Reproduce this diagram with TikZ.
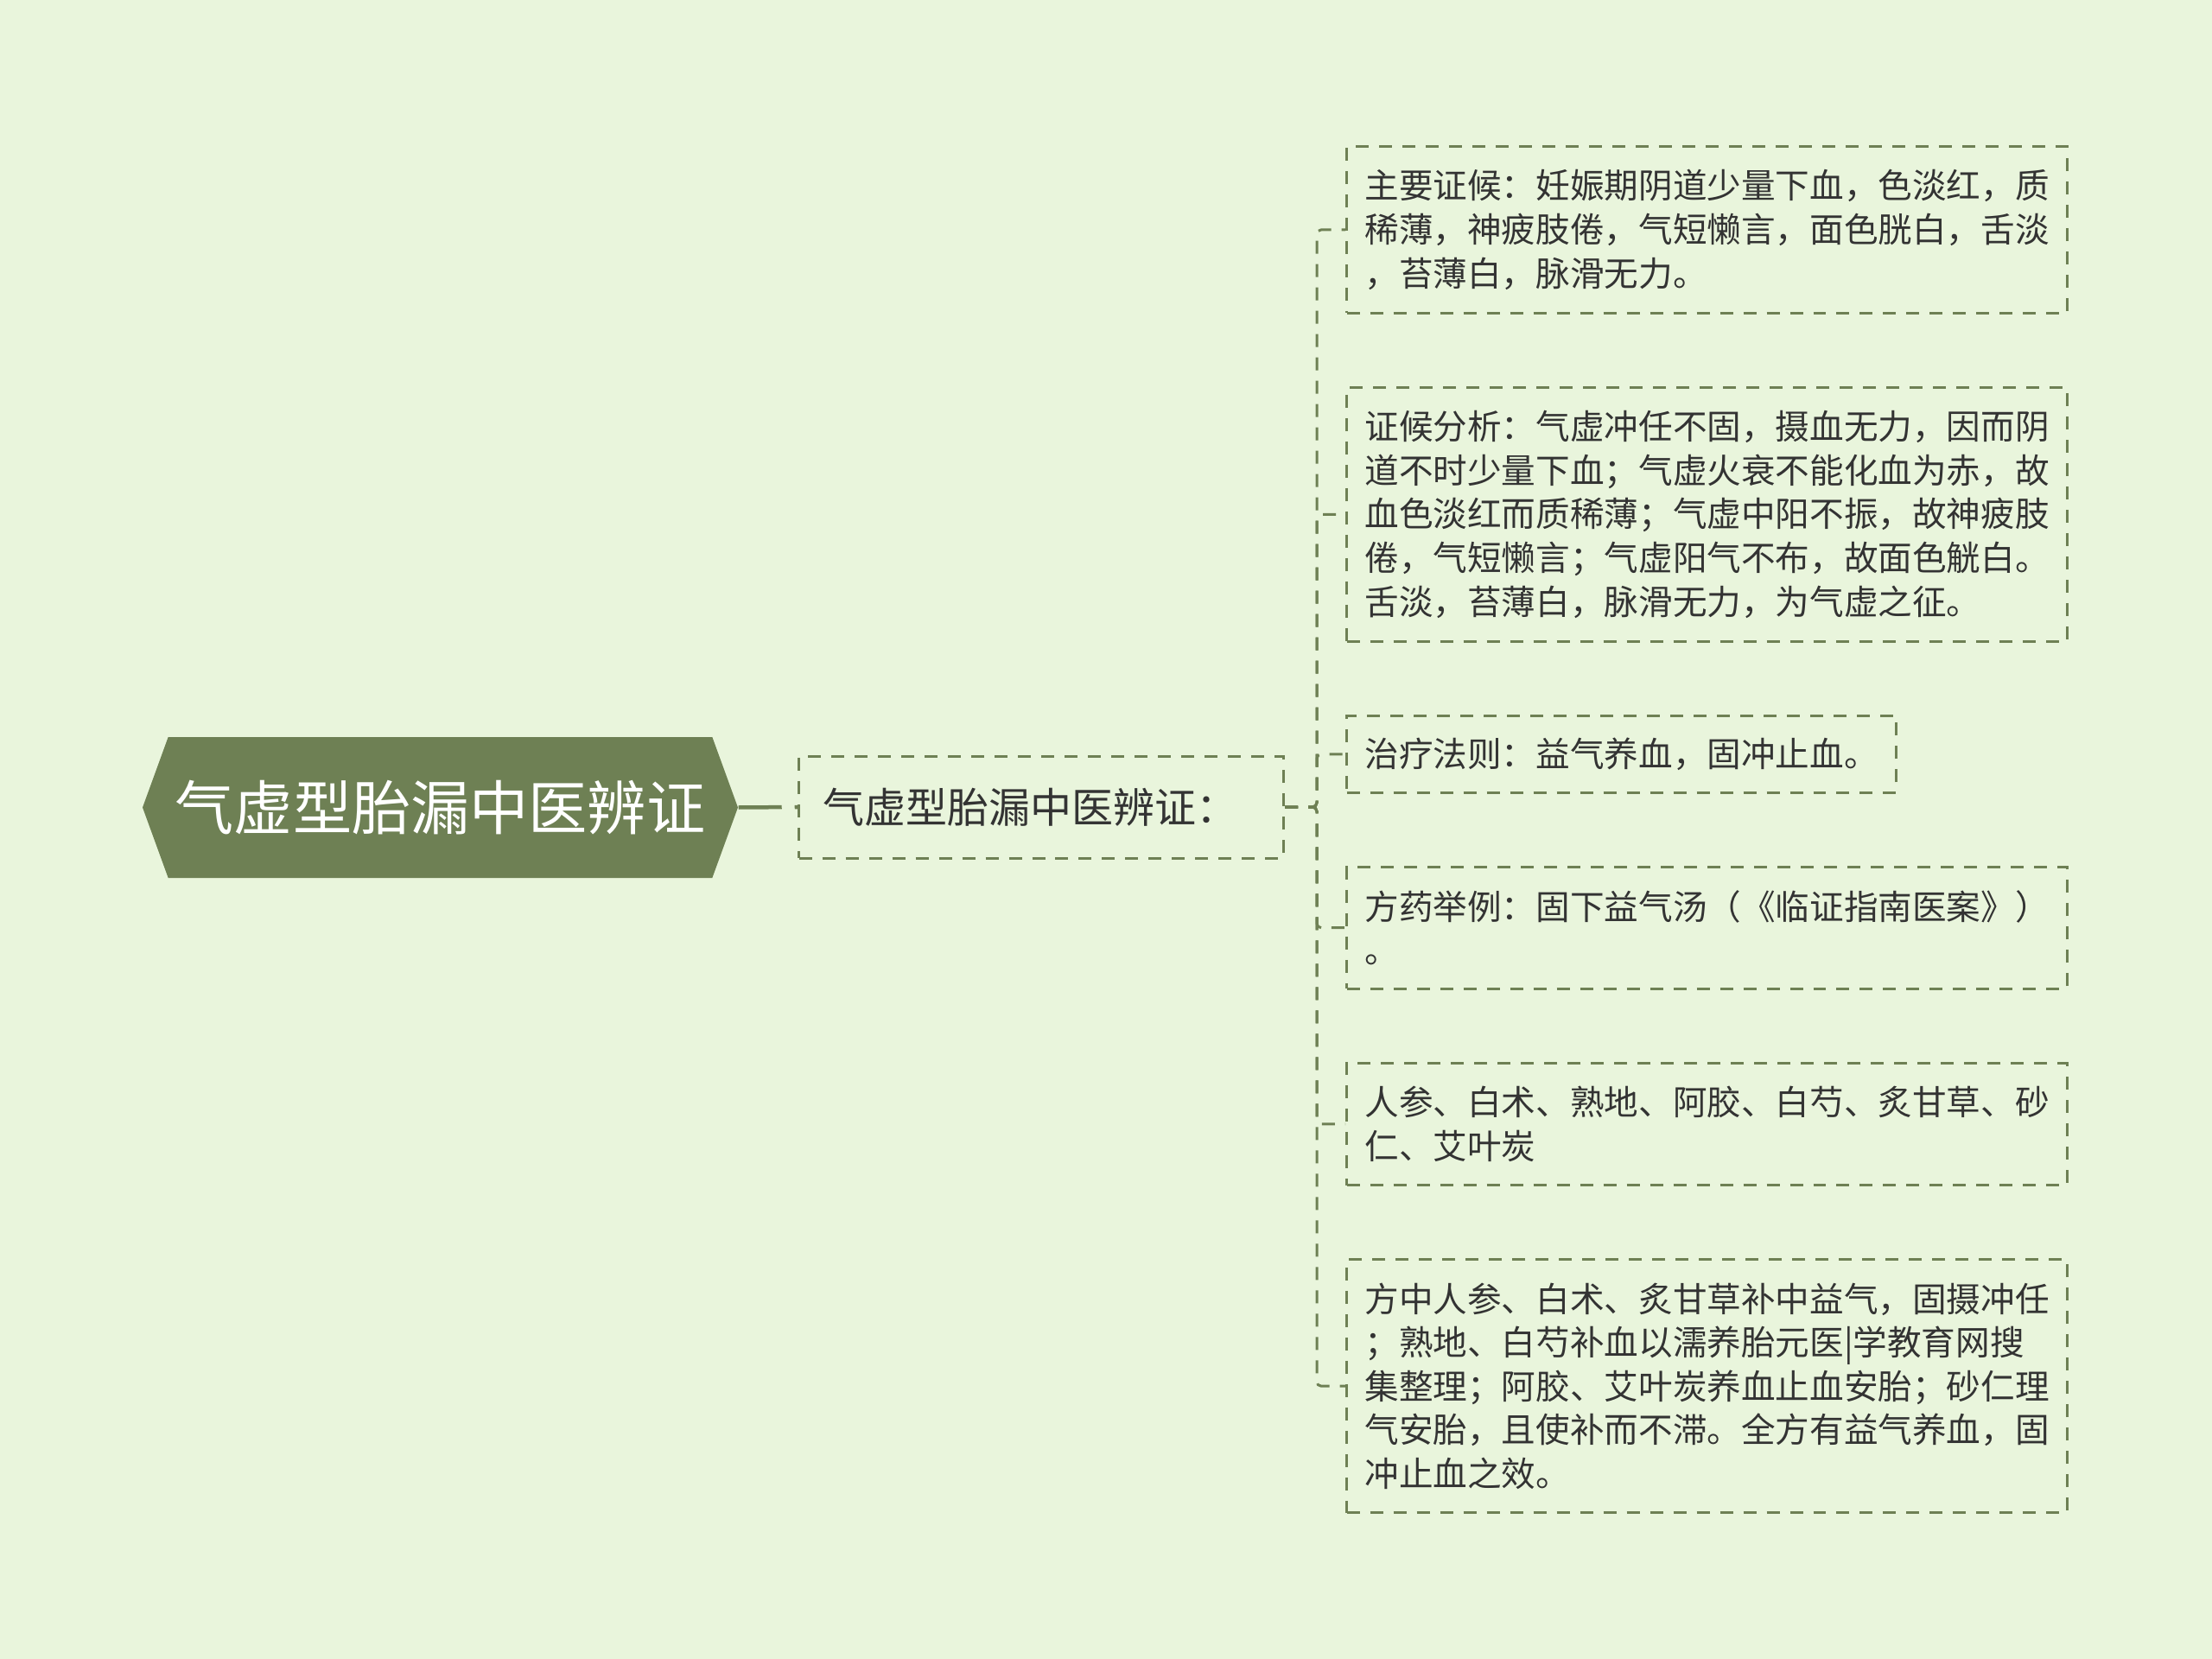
\documentclass[tikz,border=0pt]{standalone}
\usepackage{fontspec}
\setmainfont{Noto Sans CJK SC}
\usetikzlibrary{positioning,shapes.symbols}
\definecolor{bgcol}{HTML}{E9F5DC}
\definecolor{olive}{HTML}{6E8054}
\definecolor{txt}{HTML}{333333}

\begin{document}
\begin{tikzpicture}[
    leaf/.style={draw=olive, line width=0.03cm, dash pattern=on 0.15cm off 0.12cm,
        align=left, text=txt, inner xsep=0.21cm, inner ysep=0.27cm,
        font=\fontsize{11.27pt}{14.4pt}\selectfont, anchor=north west},
    link/.style={draw=olive, line width=0.03cm, dash pattern=on 0.15cm off 0.12cm,
        rounded corners=0.05cm}
]
    % background and page size
    \fill[bgcol] (0,0) rectangle (25.6,-19.2);
    \useasboundingbox (0,0) rectangle (25.6,-19.2);

    % root and its child
    \node[signal, signal to=east and west, signal pointer angle=140, fill=olive, text=white,
        font=\fontsize{19.4pt}{23pt}\selectfont, minimum width=6.85cm, minimum height=1.63cm,
        inner sep=0.08cm] (root) at (5.095,-9.345) {气虚型胎漏中医辨证};
    \node[draw=olive, line width=0.03cm, dash pattern=on 0.15cm off 0.12cm, text=txt,
        font=\fontsize{13.66pt}{16pt}\selectfont, text width=5.05cm, align=left,
        inner xsep=0.28cm, minimum height=1.18cm, anchor=west] (sub) at (9.23,-9.34) {气虚型胎漏中医辨证：};
    \draw[olive, line width=0.045cm, dash pattern=on 0.5cm off 0.15cm] (root.east) -- (sub.west);

    % leaves
    \node[leaf] (l1) at (15.57,-1.68) {主要证候：妊娠期阴道少量下血，色淡红，质\\稀薄，神疲肢倦，气短懒言，面色胱白，舌淡\\，苔薄白，脉滑无力。};
    \node[leaf, below right=0.83cm and 0cm of l1.south west] (l2) {证候分析：气虚冲任不固，摄血无力，因而阴\\道不时少量下血；气虚火衰不能化血为赤，故\\血色淡红而质稀薄；气虚中阳不振，故神疲肢\\倦，气短懒言；气虚阳气不布，故面色觥白。\\舌淡，苔薄白，脉滑无力，为气虚之征。};
    \node[leaf, inner ysep=0.255cm, below right=0.83cm and 0cm of l2.south west] (l3) {治疗法则：益气养血，固冲止血。};
    \node[leaf, below right=0.83cm and 0cm of l3.south west] (l4) {方药举例：固下益气汤（《临证指南医案》）\\。};
    \node[leaf, below right=0.83cm and 0cm of l4.south west] (l5) {人参、白术、熟地、阿胶、白芍、炙甘草、砂\\仁、艾叶炭};
    \node[leaf, below right=0.83cm and 0cm of l5.south west] (l6) {方中人参、白术、炙甘草补中益气，固摄冲任\\；熟地、白芍补血以濡养胎元医|学教育网搜\\集整理；阿胶、艾叶炭养血止血安胎；砂仁理\\气安胎，且使补而不滞。全方有益气养血，固\\冲止血之效。};

    \foreach \n in {l1,l2,l3,l4,l5,l6}
        \draw[link] (sub.east) -- ++(0.37,0) |- (\n.west);
\end{tikzpicture}
\end{document}
